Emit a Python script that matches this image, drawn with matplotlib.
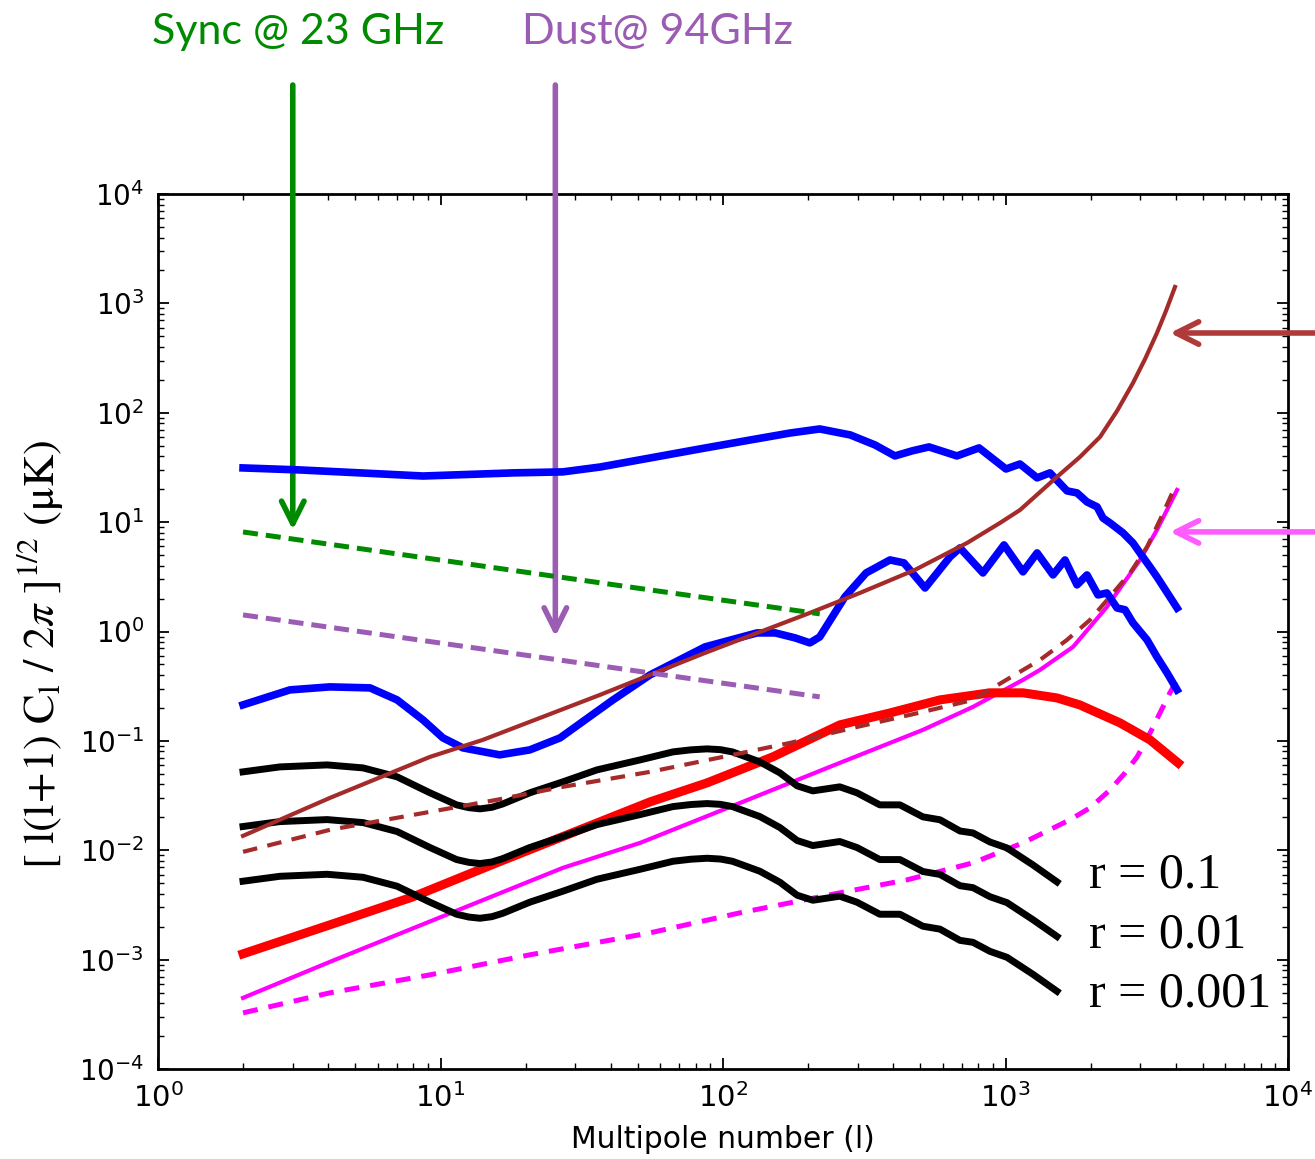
import matplotlib
matplotlib.use('Agg')
import matplotlib.pyplot as plt
import numpy as np
from matplotlib.ticker import LogLocator

plt.rcParams['mathtext.fontset'] = 'stix'
plt.rcParams['axes.unicode_minus'] = False

# CMB spectra: temperature (TT), E-mode (EE), lensing B-mode, primordial B-mode
ell_tt = [2.0, 3.18, 5.19, 8.67, 18.1, 27.1, 36.7, 55.2, 82.9, 125, 173, 220, 282, 345,
          406, 467, 536, 673, 806, 1004, 1125, 1294, 1437, 1651, 1791, 1943, 2109, 2213,
          2344, 2606, 2826, 2992, 3248, 3436, 4049]
tt_spec = [31.3, 30.0, 28.2, 26.4, 28.2, 28.8, 31.9, 38.6, 46.7, 56.4, 65.3, 71.1, 62.7, 50.8,
           40.3, 44.8, 48.7, 40.3, 47.7, 30.6, 34.0, 25.4, 28.2, 19.3, 18.5, 15.3, 13.8, 10.9,
           9.83, 7.97, 6.45, 5.23, 3.89, 3.16, 1.64]

ell_ee = [2.0, 2.93, 4.06, 5.63, 7.02, 8.67, 10.2, 12.0, 16.2, 20.7, 26.5, 32.5, 40.8, 55.2,
          86.4, 132, 153, 180, 203, 220, 270, 321, 390, 437, 519, 636, 690, 832, 988, 1153,
          1294, 1473, 1624, 1791, 1943, 2125, 2286, 2483, 2649, 2826, 3170, 3436, 3733, 4049]
ee_spec = [0.2134, 0.2925, 0.3116, 0.3051, 0.237, 0.1555, 0.1065, 0.0863, 0.0745, 0.0827,
           0.1065, 0.1555, 0.237, 0.4013, 0.7233, 0.971, 0.971, 0.874, 0.787, 0.892, 2.07,
           3.43, 4.51, 4.24, 2.50, 4.81, 5.81, 3.43, 6.19, 3.51, 5.23, 3.29, 4.51, 2.67, 3.29,
           2.16, 2.25, 1.64, 1.58, 1.20, 0.838, 0.586, 0.418, 0.2925]

ell_lens = [2.0, 4.06, 7.99, 15.8, 55.2, 87.8, 150, 259, 390, 586, 881, 1153, 1521, 1834,
            2543, 3248, 4082]
bb_lens = [0.00113, 0.00208, 0.00375, 0.00767, 0.0277, 0.0413, 0.0714, 0.140, 0.180, 0.237,
           0.275, 0.275, 0.247, 0.213, 0.146, 0.102, 0.0629]

ell_bb = [2.0, 2.70, 3.97, 5.32, 7.02, 9.18, 11.4, 12.6, 13.8, 15.2, 16.6, 20.7, 27.1, 35.8,
          50.9, 66.5, 77, 87.8, 98, 108, 135, 159, 183, 208, 259, 298, 359, 423, 510, 586,
          690, 767, 881, 1012, 1250, 1521]
bb_r1 = [0.0521, 0.0578, 0.0603, 0.0566, 0.0469, 0.0335, 0.0260, 0.0245, 0.0239, 0.0247,
         0.0265, 0.0335, 0.0422, 0.0543, 0.0670, 0.0793, 0.0828, 0.0845, 0.0831, 0.0793,
         0.0643, 0.0510, 0.0388, 0.0349, 0.0380, 0.0335, 0.0260, 0.0260, 0.0202, 0.0190,
         0.0150, 0.0144, 0.0119, 0.0105, 0.00735, 0.00514]
bb_r2 = [0.01648, 0.01828, 0.01907, 0.0179, 0.01483, 0.01059, 0.00822, 0.00775, 0.00756,
         0.00781, 0.00838, 0.01059, 0.01335, 0.01717, 0.02119, 0.02508, 0.02619, 0.02672,
         0.02628, 0.02508, 0.02033, 0.01613, 0.01227, 0.01104, 0.01202, 0.01059, 0.00822,
         0.00822, 0.00639, 0.00601, 0.00474, 0.00455, 0.00376, 0.00332, 0.00232, 0.00163]
bb_r3 = [0.00521, 0.00578, 0.00603, 0.00566, 0.00469, 0.00335, 0.0026, 0.00245, 0.00239,
         0.00247, 0.00265, 0.00335, 0.00422, 0.00543, 0.0067, 0.00793, 0.00828, 0.00845,
         0.00831, 0.00793, 0.00643, 0.0051, 0.00388, 0.00349, 0.0038, 0.00335, 0.0026,
         0.0026, 0.00202, 0.0019, 0.0015, 0.00144, 0.00119, 0.00105, 0.000735, 0.000514]
r_labels = ['r = 0.1', 'r = 0.01', 'r = 0.001']
r_label_y = [0.00453, 0.00128, 0.000372]

# instrument noise curves
ell_noise1 = [2.0, 4.06, 9.18, 14.1, 36.7, 86.4, 203, 305, 478, 731, 956, 1125, 1521, 1834,
              2161, 2483, 2826, 3119, 3436, 3698, 3981]
noise1 = [0.01354, 0.0301, 0.0714, 0.102, 0.2634, 0.6375, 1.479, 2.25, 3.66, 6.45, 9.83,
          12.9, 25.9, 39.4, 60.1, 104, 187, 310, 536, 852, 1412]
ell_noise1b = [2.0, 4.06, 9.18, 15.8, 27.1, 55.2, 100, 173, 298, 510, 767, 940, 1325, 1651,
               1991, 2404, 2761, 3170, 3524, 3981]
noise1b = [0.00967, 0.01537, 0.02244, 0.0289, 0.038, 0.0521, 0.0714, 0.0959, 0.134, 0.184,
           0.237, 0.325, 0.55, 0.838, 1.276, 2.25, 3.43, 5.93, 10.5, 21.0]
ell_noise2 = [2.0, 4.06, 10.5, 27.1, 50.9, 115, 259, 510, 767, 1153, 1325, 1734, 2286, 2992,
              3436, 4049]
noise2 = [0.000447, 0.000954, 0.00257, 0.0069, 0.01168, 0.0271, 0.0629, 0.126, 0.2045, 0.361,
          0.446, 0.723, 1.68, 4.51, 8.49, 19.7]
ell_noise2b = [2.0, 4.06, 9.18, 20.7, 55.2, 115, 259, 448, 767, 1153, 1692, 1991, 2344, 2649,
               2924, 3248, 3819, 4049]
noise2b = [0.000326, 0.000497, 0.000726, 0.001106, 0.001758, 0.00268, 0.00408, 0.00536,
           0.00767, 0.01168, 0.019, 0.0244, 0.0356, 0.051, 0.0714, 0.118, 0.275, 0.361]

# foregrounds
ell_fg = [2.0, 55.2, 220]
sync_23 = [8.13, 2.40, 1.45]
dust_94 = [1.418, 0.418, 0.2525]

green = '#008a00'
purple = '#9b5cb4'
brown = '#a52a2a'

fig = plt.figure(figsize=(13.15, 11.59), dpi=100)
ax = fig.add_axes([158/1315, 90/1159, 1130/1315, 875/1159])

ax.plot(ell_noise2, noise2, color='#ff00ff', lw=3, zorder=2)
ax.plot(ell_noise2b, noise2b, color='#ff00ff', lw=3.6, ls=(0, (3, 2.2)), zorder=2)
ax.plot(ell_lens, bb_lens, color='#ff0000', lw=6.5, zorder=3, solid_joinstyle='round')
for vals in (bb_r1, bb_r2, bb_r3):
    ax.plot(ell_bb, vals, color='black', lw=5, zorder=3, solid_joinstyle='round')
ax.plot(ell_tt, tt_spec, color='#0000ff', lw=5.5, zorder=4, solid_joinstyle='round')
ax.plot(ell_ee, ee_spec, color='#0000ff', lw=5.5, zorder=4, solid_joinstyle='round')
ax.plot(ell_noise1, noise1, color=brown, lw=3, zorder=5)
ax.plot(ell_noise1b, noise1b, color=brown, lw=3, ls=(0, (3.5, 2.5)), zorder=5)
ax.plot(ell_fg, sync_23, color=green, lw=3.6, ls=(0, (3, 1.6)), zorder=5)
ax.plot(ell_fg, dust_94, color=purple, lw=3.6, ls=(0, (3, 1.6)), zorder=5)

for lab, yv in zip(r_labels, r_label_y):
    ax.text(1976, yv, lab, fontsize=36, family='Liberation Serif', va='baseline', ha='left')

ax.set_xscale('log')
ax.set_yscale('log')
ax.set_xlim(1, 1e4)
ax.set_ylim(1e-4, 1e4)
for axis in (ax.xaxis, ax.yaxis):
    axis.set_major_locator(LogLocator(base=10, numticks=20))
    axis.set_minor_locator(LogLocator(base=10, subs=np.arange(2, 10), numticks=200))
ax.tick_params(which='major', direction='in', length=8, width=1.3, top=True, right=True, pad=10)
ax.tick_params(which='minor', direction='in', length=4.5, width=1.0, top=True, right=True)
ax.tick_params(axis='y', labelsize=20)
ax.tick_params(axis='x', labelsize=21)
for sp in ax.spines.values():
    sp.set_linewidth(2)

ax.set_xlabel('Multipole number (l)', fontsize=21.5, labelpad=9)
fig.text(40/1315, 1 - 655/1159,
         r'$[\ \mathrm{l(l\!+\!1)\ C_l\ /\ 2}\pi\ ]^{1/2}\ (\mathrm{\mu K})$',
         rotation=90, fontsize=32, ha='center', va='center')

# foreground labels with arrows down to the curves
fig.text(298/1315, 1 - 44/1159, 'Sync @ 23 GHz', color=green, fontsize=31,
         family='Lato', ha='center', va='baseline')
fig.text(658/1315, 1 - 44/1159, 'Dust@ 94GHz', color=purple, fontsize=31,
         family='Lato', ha='center', va='baseline')
head = '->, head_length=0.6, head_width=0.3'
ax.annotate('', xy=(3.0, 8.5), xytext=(3.0, 1 - 85/1159),
            textcoords=('data', 'figure fraction'), annotation_clip=False,
            arrowprops=dict(arrowstyle=head, color=green, lw=4, mutation_scale=27,
                            shrinkA=0, shrinkB=0))
ax.annotate('', xy=(25.5, 0.9), xytext=(25.5, 1 - 85/1159),
            textcoords=('data', 'figure fraction'), annotation_clip=False,
            arrowprops=dict(arrowstyle=head, color=purple, lw=4, mutation_scale=27,
                            shrinkA=0, shrinkB=0))

# arrows pointing at the two noise curves from the right edge
ax.annotate('', xy=(3822, 536), xytext=(1.0, 536),
            textcoords=('figure fraction', 'data'), annotation_clip=False,
            arrowprops=dict(arrowstyle=head, color='#b03a3a', lw=4, mutation_scale=27,
                            shrinkA=0, shrinkB=0))
ax.annotate('', xy=(3822, 8.14), xytext=(1.0, 8.14),
            textcoords=('figure fraction', 'data'), annotation_clip=False,
            arrowprops=dict(arrowstyle=head, color='#ff5cff', lw=4, mutation_scale=27,
                            shrinkA=0, shrinkB=0))

fig.savefig('out.png', dpi=100)
